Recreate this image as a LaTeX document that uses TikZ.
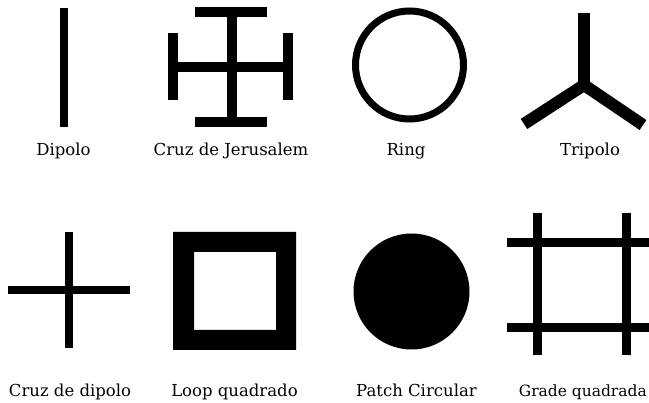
\documentclass[tikz,border=0pt]{standalone}
\usepackage{fontspec}
\setmainfont{DejaVu Serif}
\begin{document}
\begin{tikzpicture}[x=1pt,y=-1pt,
  lbl/.style={font=\fontsize{16.5}{19}\selectfont, inner sep=0pt, anchor=base},
  bar/.style={line width=#1, line cap=butt, draw=black}]
\useasboundingbox[fill=white] (0,0) rectangle (649,403);
% Dipolo
\draw[bar=8] (64,8) -- (64,127);
\node[lbl] (l1) at (63.5,156) {Dipolo};
% Cruz de Jerusalem
\draw[bar=10] (232,12) -- (232,122);
\draw[bar=10] (195,12) -- (267,12);
\draw[bar=10] (195,122) -- (267,122);
\draw[bar=10] (173,67.5) -- (288,67.5);
\draw[bar=10] (173,33) -- (173,100);
\draw[bar=10] (288,33) -- (288,100);
\node[lbl] (l2) at (231,156) {Cruz de Jerusalem};
% Ring
\draw[line width=7] (409.5,65) circle[radius=54];
\node[lbl] (l3) at (406,156) {Ring};
% Tripolo
\draw[bar=12] (584,13) -- (584,85);
\draw[bar=12, line join=miter] (524,124) -- (584,85) -- (643,125);
\node[lbl] (l4) at (590,156) {Tripolo};
% Cruz de dipolo
\draw[bar=8] (69,232) -- (69,348);
\draw[bar=8] (8,290.5) -- (130,290.5);
\node[lbl] (l5) at (70,397) {Cruz de dipolo};
% Loop quadrado
\fill[even odd rule] (173,232) rectangle (296,350) (194,252) rectangle (276,330);
\node[lbl] (l6) at (234.5,397) {Loop quadrado};
% Patch Circular
\fill (411.5,291.5) circle[radius=58];
\node[lbl] (l7) at (416.5,397) {Patch Circular};
% Grade quadrada
\draw[bar=9] (537.5,213) -- (537.5,355);
\draw[bar=9] (626,213) -- (626,355);
\draw[bar=9] (507,242.5) -- (649,242.5);
\draw[bar=9] (507,327.5) -- (649,327.5);
\node[lbl, font=\fontsize{15.5}{18}\selectfont, anchor=base east] (l8) at (647,397) {Grade quadrada};
\end{tikzpicture}
\end{document}
